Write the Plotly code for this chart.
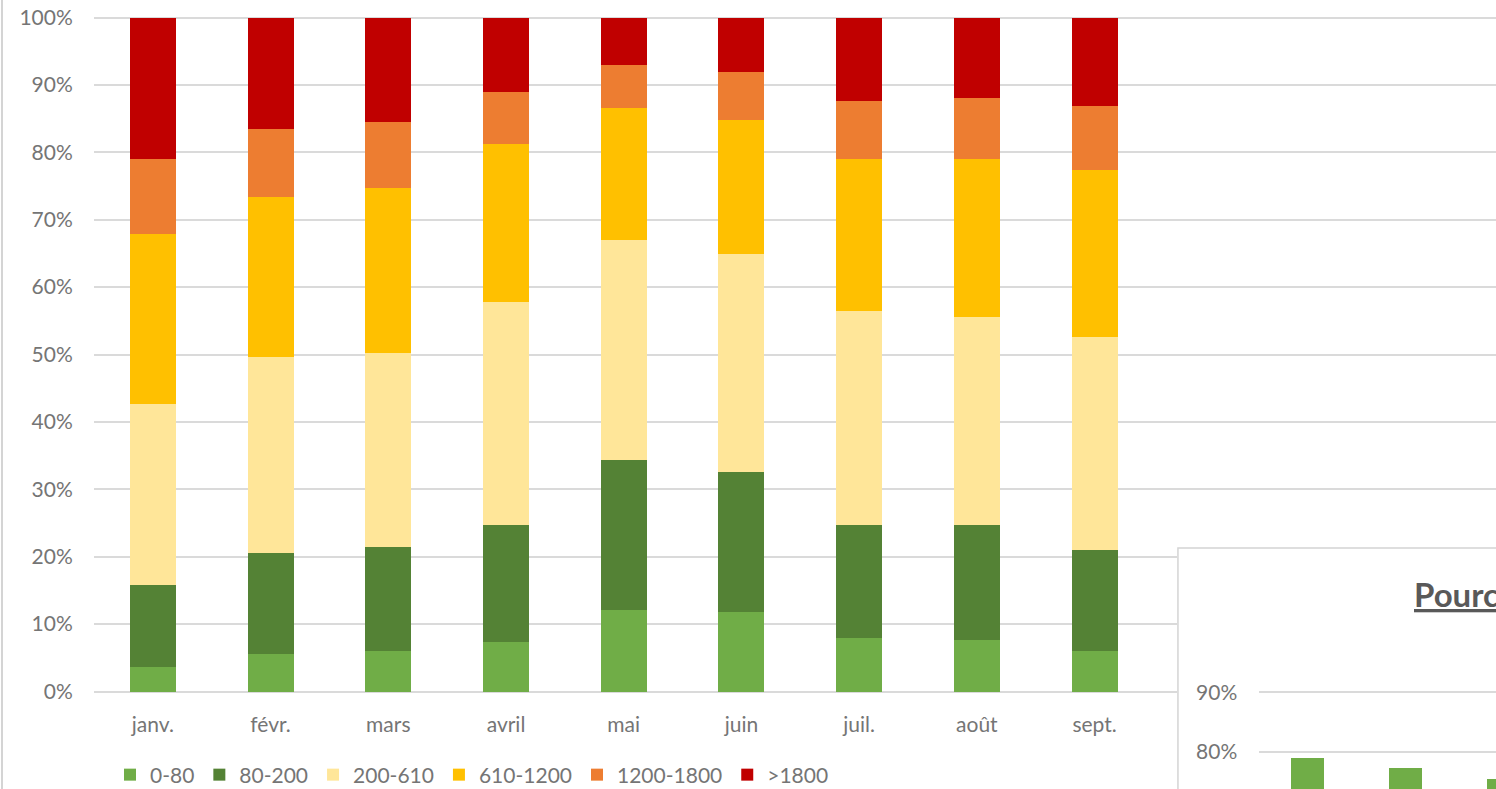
import plotly.graph_objects as go

# ---- data ----
months = ["janv.", "févr.", "mars", "avril", "mai", "juin", "juil.", "août", "sept."]
series_names = ["0-80", "80-200", "200-610", "610-1200", "1200-1800", ">1800"]
s_0_80 = [3.6, 5.5, 6.0, 7.3, 12.1, 11.8, 7.9, 7.6, 6.0]
s_80_200 = [12.2, 15.1, 15.5, 17.4, 22.3, 20.7, 16.8, 17.1, 15.0]
s_200_610 = [26.9, 29.0, 28.7, 33.1, 32.6, 32.4, 31.8, 30.8, 31.6]
s_610_1200 = [25.2, 23.7, 24.5, 23.4, 19.6, 19.9, 22.5, 23.5, 24.8]
s_1200_1800 = [11.1, 10.1, 9.8, 7.8, 6.3, 7.1, 8.6, 9.1, 9.5]
s_over_1800 = [21.0, 16.6, 15.5, 11.0, 7.1, 8.1, 12.4, 11.9, 13.1]
y_ticks = [0, 10, 20, 30, 40, 50, 60, 70, 80, 90, 100]
y_tick_labels = ["0%", "10%", "20%", "30%", "40%", "50%", "60%", "70%", "80%", "90%", "100%"]

inset_title = "Pourcentage"
inset_months = ["janv.", "févr.", "mars"]
inset_values = [78.9, 77.2, 75.4]
inset_ticks = [80, 90]
inset_tick_labels = ["80%", "90%"]

colors = ["#70AD47", "#548235", "#FFE699", "#FFC000", "#ED7D31", "#C00000"]
all_series = [s_0_80, s_80_200, s_200_610, s_610_1200, s_1200_1800, s_over_1800]

W, H = 1496, 789
FONT = "Lato"
LABEL = "#757575"
GRID = "#DADADA"


def fx(px):
    return px / W


def fy(py):
    return 1 - py / H


fig = go.Figure()

for name, vals, col in zip(series_names, all_series, colors):
    fig.add_trace(go.Bar(
        x=months, y=vals, name=name, marker=dict(color=col, line=dict(width=0)),
        width=0.39, xaxis="x", yaxis="y",
    ))

# inset panel background (white card covering the main chart)
fig.add_trace(go.Scatter(
    x=[0, 1.2, 1.2, 0, 0], y=[-0.2, -0.2, 1, 1, -0.2], mode="lines",
    fill="toself", fillcolor="white", line=dict(color="#D4D4D4", width=1.5),
    xaxis="x2", yaxis="y2", showlegend=False, hoverinfo="skip",
))

# inset chart
fig.add_trace(go.Bar(
    x=inset_months, y=inset_values, marker=dict(color="#70AD47", line=dict(width=0)),
    width=0.34, xaxis="x3", yaxis="y3", showlegend=False,
))

fig.update_layout(
    width=W, height=H, autosize=False,
    margin=dict(l=0, r=0, t=0, b=0, pad=0, autoexpand=False),
    paper_bgcolor="white", plot_bgcolor="white",
    barmode="stack", bargap=0.6,
    font=dict(family=FONT, size=21, color=LABEL),
    showlegend=True,
    legend=dict(
        orientation="h", x=fx(110), xanchor="left", y=fy(775), yanchor="middle",
        font=dict(family=FONT, size=21, color=LABEL), traceorder="normal",
        bgcolor="rgba(0,0,0,0)", itemclick=False,
    ),
    xaxis=dict(
        domain=[fx(94), 1], range=[-0.5, 11.41], type="category",
        showgrid=False, zeroline=False, showline=False, automargin=False,
        ticks="outside", ticklen=13, tickcolor="rgba(0,0,0,0)",
        tickfont=dict(family=FONT, size=21, color=LABEL),
    ),
    yaxis=dict(
        domain=[fy(692.85), fy(14.8)], range=[-0.2, 100.4],
        tickmode="array", tickvals=y_ticks, ticktext=y_tick_labels,
        showgrid=True, gridcolor=GRID, gridwidth=1.5,
        zeroline=True, zerolinecolor=GRID, zerolinewidth=1.5,
        showline=False, ticks="outside", ticklen=16, tickcolor="rgba(0,0,0,0)",
        tickfont=dict(family=FONT, size=21, color=LABEL), automargin=False,
    ),
    xaxis2=dict(domain=[fx(1177), 1], range=[-0.003, 1], visible=False,
                fixedrange=True, automargin=False),
    yaxis2=dict(domain=[0, fy(546.5)], range=[0, 1.006], visible=False,
                fixedrange=True, automargin=False),
    xaxis3=dict(
        domain=[fx(1258.5), 1], range=[-0.5, 1.92], type="category",
        showgrid=False, zeroline=False, showline=False, showticklabels=False,
        anchor="y3", automargin=False,
    ),
    yaxis3=dict(
        domain=[0, fy(690.7)], range=[73.7, 90.3],
        tickmode="array", tickvals=inset_ticks, ticktext=inset_tick_labels,
        showgrid=True, gridcolor=GRID, gridwidth=1.5, zeroline=False, showline=False,
        ticks="outside", ticklen=16, tickcolor="rgba(0,0,0,0)",
        tickfont=dict(family=FONT, size=21, color=LABEL), anchor="x3", automargin=False,
    ),
    annotations=[dict(
        text="<b><u>" + inset_title + "</u></b>", x=fx(1412), xanchor="left",
        y=fy(594), yanchor="middle", xref="paper", yref="paper", showarrow=False,
        font=dict(family=FONT, size=33, color="#595959"),
    )],
    shapes=[dict(
        type="line", xref="paper", yref="paper", x0=fx(2), x1=fx(2), y0=0, y1=1,
        line=dict(color="#D4D4D4", width=2),
    )],
)

fig.write_html(
    "out.html",
    config={"displayModeBar": False},
    post_script="document.body.style.margin='0';document.body.style.overflow='hidden';",
)
